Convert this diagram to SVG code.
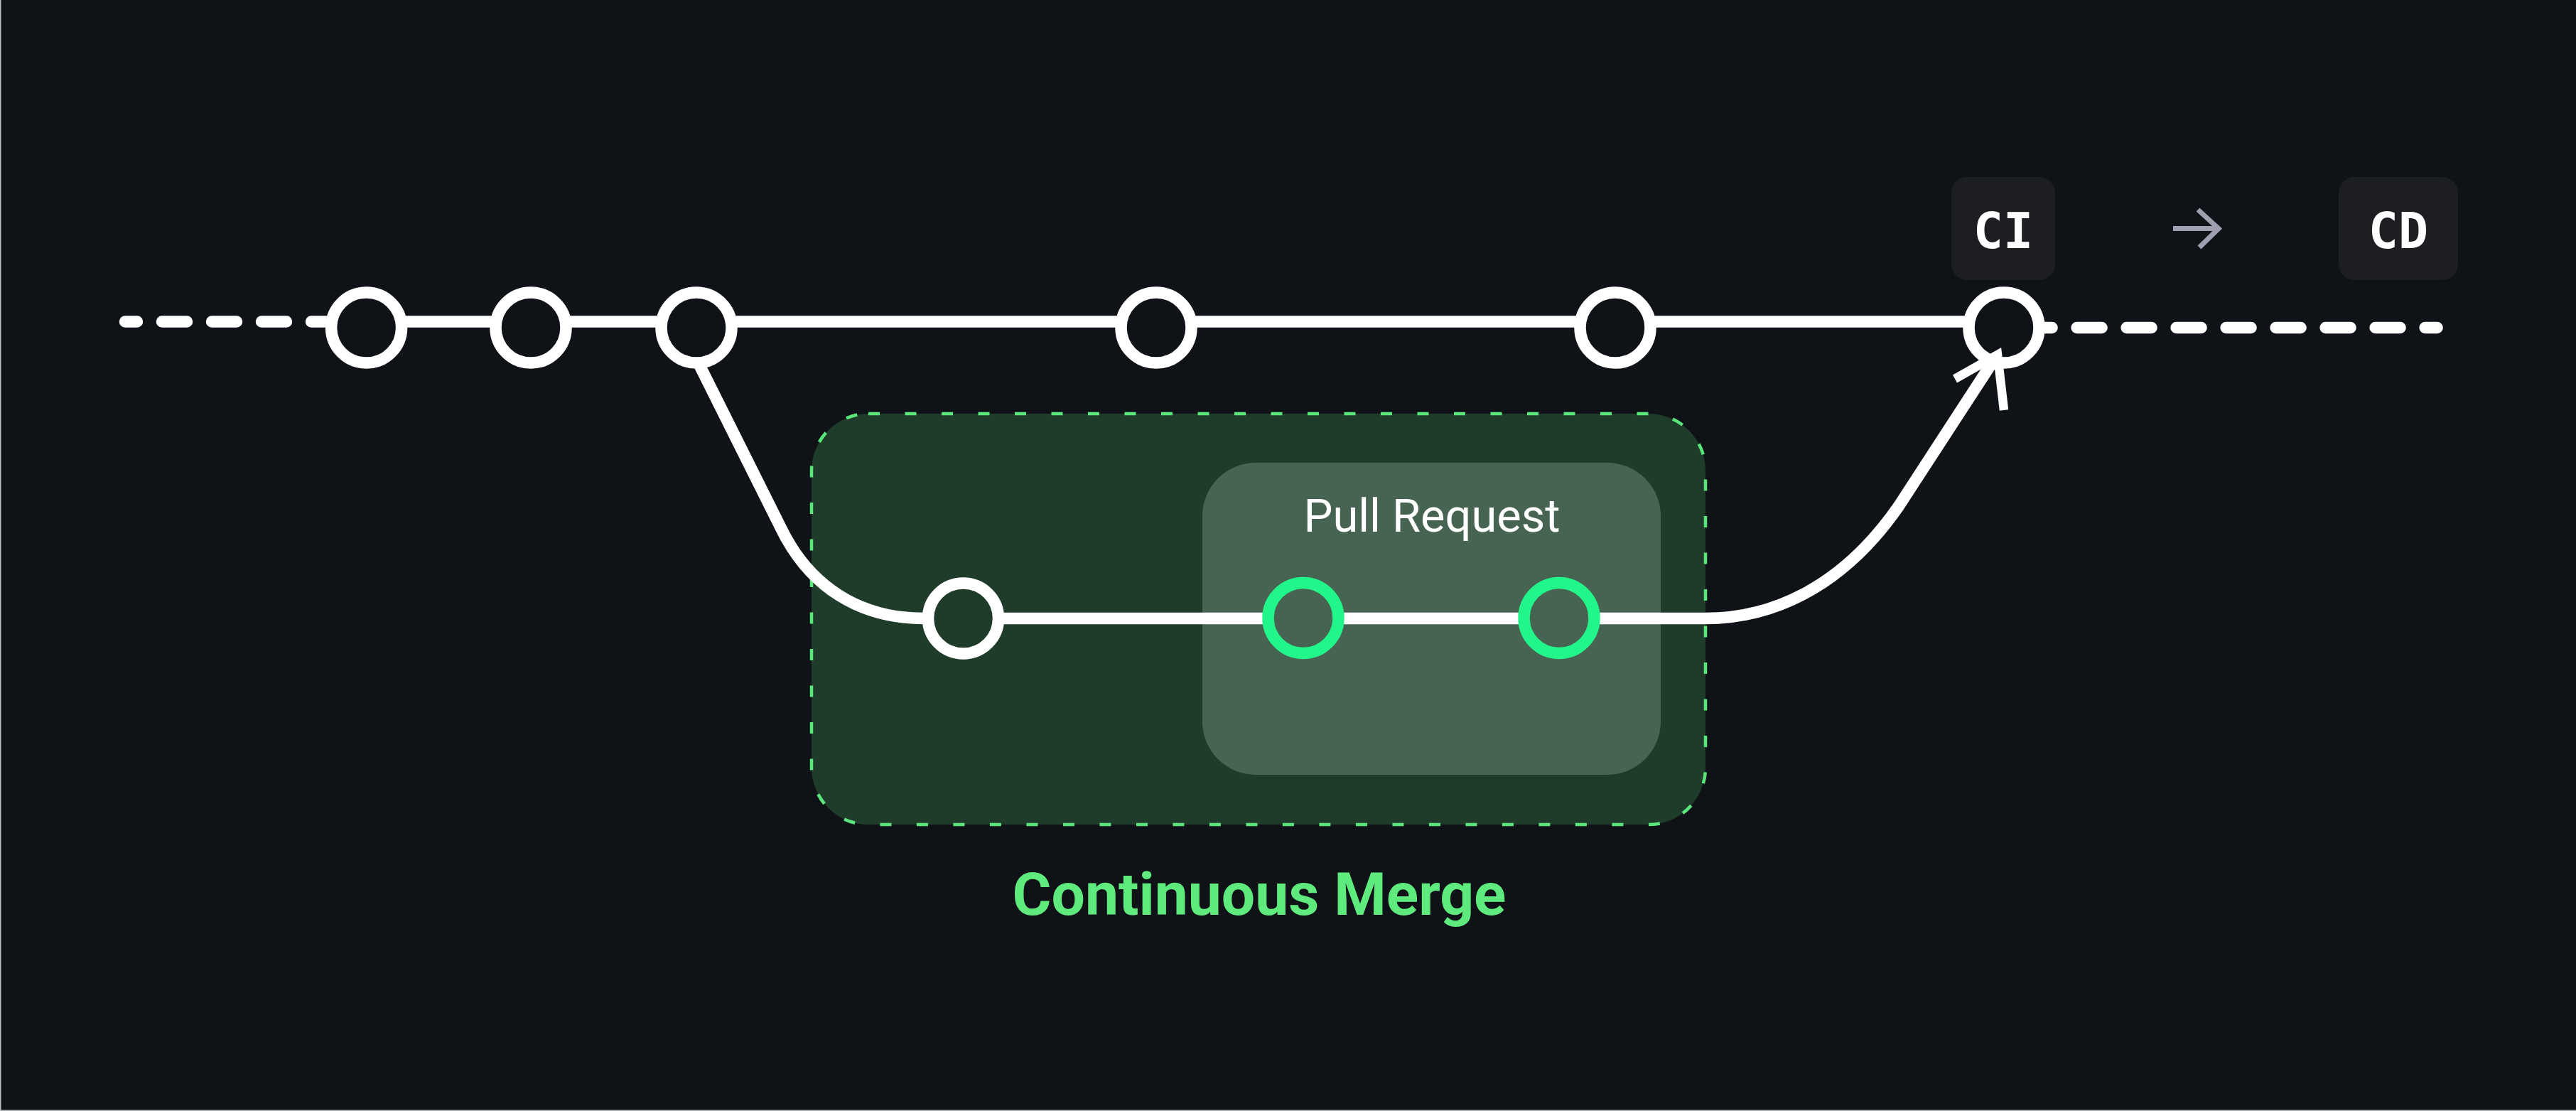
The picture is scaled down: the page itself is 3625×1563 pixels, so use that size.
<svg xmlns="http://www.w3.org/2000/svg" width="3625" height="1563" viewBox="0 0 3625 1563">
<style>
.line{fill:none;stroke:#ffffff;stroke-width:16.5}
.dash{fill:none;stroke:#ffffff;stroke-width:16.5;stroke-linecap:round;stroke-dasharray:35 35}
.ring{stroke:#ffffff;stroke-width:16.5}
.gring{stroke:#22F58A;stroke-width:16.5}
.chip{fill:#1C1E22}
.mono{font-family:"DejaVu Sans Mono","Liberation Mono",monospace;font-weight:bold;font-size:70px;fill:#ffffff;text-anchor:middle}
</style>
<rect x="0" y="0" width="3625" height="1563" fill="#0F1217"/>
<rect x="0" y="0" width="1.5" height="1563" fill="#BEBFC2"/>
<rect x="0" y="1561.5" width="3625" height="1.5" fill="#BEBFC2"/>

<g id="continuous-merge">
<rect x="1142" y="582" width="1258" height="578" rx="80" ry="80" fill="#1F3B2A" stroke="#5BE67B" stroke-width="4.5" stroke-dasharray="16 35.5"/>
<text x="1772" y="1287" font-family="Roboto,'Liberation Sans',sans-serif" font-weight="bold" font-size="84" fill="#5FEA7D" text-anchor="middle">Continuous Merge</text>
</g>

<g id="pull-request">
<rect x="1692" y="651" width="645" height="439" rx="75" ry="75" fill="#476452"/>
<text x="2015" y="748" font-family="Roboto,'Liberation Sans',sans-serif" font-size="65" fill="#ffffff" text-anchor="middle">Pull Request</text>
</g>

<g id="connectors">
<line class="line" x1="515" y1="452.5" x2="2820" y2="452.5"/>
<line class="dash" x1="176" y1="452.5" x2="460" y2="452.5" stroke-dashoffset="18"/>
<line class="dash" x1="2852.6" y1="461" x2="3429.6" y2="461"/>
<path class="line" d="M985 515 L1100 745 C1140 826 1210 870 1300 870 L2400 870 C2490 870 2590 830 2672 712 L2808 503"/>
<line x1="3058" y1="321.5" x2="3120" y2="321.5" stroke="#A09FB0" stroke-width="7"/>
<polyline points="3093,295 3122,321.5 3095,348" fill="none" stroke="#A09FB0" stroke-width="7"/>
</g>

<g id="commit-1"><circle class="ring" cx="515.6" cy="461" r="49.5" fill="#0F1217"/></g>
<g id="commit-2"><circle class="ring" cx="747" cy="461" r="49.5" fill="#0F1217"/></g>
<g id="commit-3"><circle class="ring" cx="980" cy="461" r="49.5" fill="#0F1217"/></g>
<g id="commit-4"><circle class="ring" cx="1627" cy="461" r="49.5" fill="#0F1217"/></g>
<g id="commit-5"><circle class="ring" cx="2273" cy="461" r="49.5" fill="#0F1217"/></g>
<g id="commit-ci"><circle class="ring" cx="2820" cy="461" r="49.5" fill="#0F1217"/></g>
<g id="branch-commit-1"><circle class="ring" cx="1355.5" cy="870" r="49.5" fill="#1F3B2A"/></g>
<g id="pr-commit-1"><circle class="gring" cx="1834" cy="869.5" r="49.5" fill="#476452"/></g>
<g id="pr-commit-2"><circle class="gring" cx="2194" cy="869.5" r="49.5" fill="#476452"/></g>

<g id="merge-arrowhead">
<polyline points="2751,533 2811,499 2820,577" fill="none" stroke="#ffffff" stroke-width="12.5"/>
</g>

<g id="ci">
<rect class="chip" x="2746" y="249" width="146" height="145" rx="22" ry="22"/>
<text class="mono" x="2819" y="349">CI</text>
</g>
<g id="cd">
<rect class="chip" x="3291" y="249" width="168" height="145" rx="22" ry="22"/>
<text class="mono" x="3375" y="349">CD</text>
</g>
</svg>
